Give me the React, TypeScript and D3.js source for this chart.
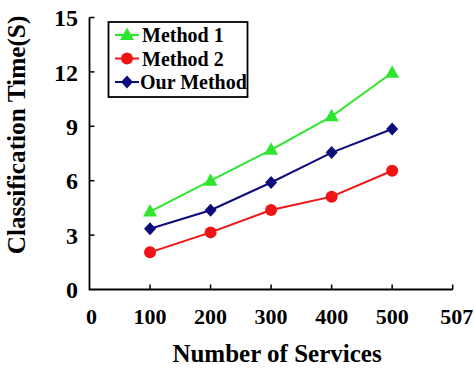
import React, { useEffect } from "react";
import * as d3 from "d3";

// services count on the x axis
const services = [100, 200, 300, 400, 500];
const method1 = [4.3, 6.0, 7.7, 9.55, 11.95];
const method2 = [2.05, 3.15, 4.38, 5.12, 6.55];
const ourMethod = [3.35, 4.37, 5.9, 7.55, 8.85];

const xTickValues = [0, 100, 200, 300, 400, 500, 600];
const xTickLabels = ["0", "100", "200", "300", "400", "500", "507"];
const yTickValues = [0, 3, 6, 9, 12, 15];

type Series = { name: string; values: number[]; color: string; marker: "triangle" | "circle" | "diamond" };

const series: Series[] = [
  { name: "Method 1", values: method1, color: "#2ee62e", marker: "triangle" },
  { name: "Method 2", values: method2, color: "#f21414", marker: "circle" },
  { name: "Our Method", values: ourMethod, color: "#0c0c7a", marker: "diamond" },
];

const width = 474;
const height = 370;
const font = "'Liberation Serif', 'Times New Roman', serif";

const Marker: React.FC<{ kind: Series["marker"]; x: number; y: number; color: string }> = ({ kind, x, y, color }) => {
  if (kind === "circle") return <circle cx={x} cy={y} r={6} fill={color} />;
  if (kind === "diamond")
    return <path d={`M${x},${y - 6.5}L${x + 6},${y}L${x},${y + 6.5}L${x - 6},${y}Z`} fill={color} />;
  return <path d={`M${x},${y - 7.5}L${x + 7},${y + 5}L${x - 7},${y + 5}Z`} fill={color} />;
};

const App: React.FC = () => {
  useEffect(() => {
    document.body.style.margin = "0";
  }, []);

  const x = d3.scaleLinear().domain([0, 600]).range([89.5, 452.7]);
  const y = d3.scaleLinear().domain([0, 15]).range([289.5, 17.5]);

  const line = d3
    .line<number>()
    .x((_, i) => x(services[i]))
    .y((d) => y(d));

  return (
    <svg width={width} height={height} style={{ display: "block", background: "#fff" }} fontFamily={font} fontWeight="bold">
      {/* axes */}
      <path d={`M${x(0)},${y(15)}V${y(0)}H${x(600)}`} fill="none" stroke="#000" strokeWidth={1.8} />
      {yTickValues.slice(1).map((v) => (
        <line key={"yt" + v} x1={x(0)} x2={x(0) + 5} y1={y(v)} y2={y(v)} stroke="#000" strokeWidth={1.5} />
      ))}
      {xTickValues.slice(1).map((v) => (
        <line key={"xt" + v} x1={x(v)} x2={x(v)} y1={y(0)} y2={y(0) - 5} stroke="#000" strokeWidth={1.5} />
      ))}
      {yTickValues.map((v) => (
        <text key={"yl" + v} x={78} y={y(v)} dy="0.36em" textAnchor="end" fontSize={24}>
          {v}
        </text>
      ))}
      {xTickValues.map((v, i) => (
        <text key={"xl" + v} x={x(v) + (i === 0 ? 2 : i === 6 ? 4 : 0)} y={323.5} textAnchor="middle" fontSize={22}>
          {xTickLabels[i]}
        </text>
      ))}
      <text x={277} y={362} textAnchor="middle" fontSize={25}>
        Number of Services
      </text>
      <text transform={`translate(16,135) rotate(-90)`} textAnchor="middle" dy="0.35em" fontSize={25.3}>
        Classification Time(S)
      </text>

      {/* series */}
      {series.map((s) => (
        <g key={s.name}>
          <path d={line(s.values) ?? ""} fill="none" stroke={s.color} strokeWidth={2} />
          {s.values.map((v, i) => (
            <Marker key={i} kind={s.marker} x={x(services[i])} y={y(v)} color={s.color} />
          ))}
        </g>
      ))}

      {/* legend */}
      <rect x={108.5} y={22} width={139} height={75} fill="#fff" stroke="#000" strokeWidth={1.8} />
      {series.map((s, i) => {
        const ly = 35 + i * 23.5;
        return (
          <g key={"lg" + s.name}>
            <line x1={115} x2={139} y1={ly} y2={ly} stroke={s.color} strokeWidth={2} />
            <Marker kind={s.marker} x={127} y={ly} color={s.color} />
            <text x={i === 2 ? 140 : 142} y={ly} dy="0.35em" fontSize={20}>
              {s.name}
            </text>
          </g>
        );
      })}
    </svg>
  );
};

export default App;
